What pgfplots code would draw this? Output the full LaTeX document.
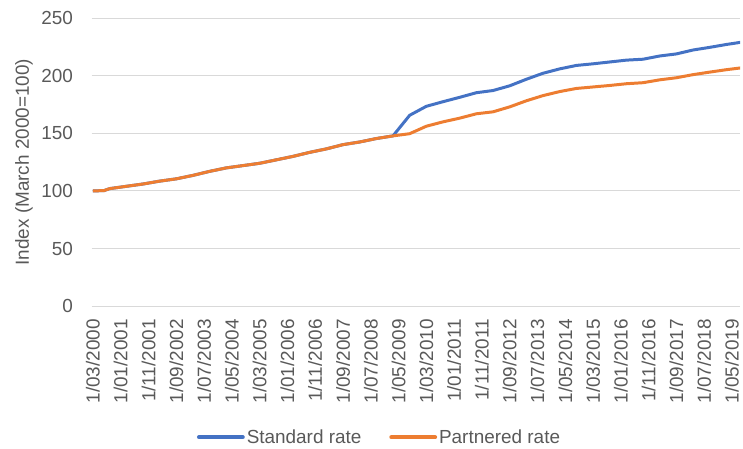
\documentclass[border=0pt]{standalone}
\usepackage{pgfplots}
\pgfplotsset{compat=1.18}
\usepackage{pgfplotstable}
\usepackage{fontspec}
\setmainfont{Liberation Sans}
\definecolor{stdblue}{HTML}{4472C4}
\definecolor{partorange}{HTML}{ED7D31}
\definecolor{gridgrey}{HTML}{D9D9D9}
\definecolor{textgrey}{HTML}{595959}
\newcommand\chartfont{\fontsize{19bp}{22bp}\selectfont}
% m = months since March 2000
\pgfplotstableread{
m std part
0 100 100
4 100.3 100.3
6 102 102
12 104 104
18 106 106
24 108.5 108.5
30 110.5 110.5
36 113.5 113.5
42 117 117
48 120 120
54 122 122
60 124 124
66 127 127
72 130 130
78 133.5 133.5
84 136.5 136.5
90 140.2 140.2
96 142.5 142.5
102 145.5 145.5
108 147.8 147.8
114 165.7 149.7
120 173.5 156.2
126 177.5 160
132 181.3 163.2
138 185.3 167
144 187.2 168.7
150 191.3 173
156 197 178.3
162 202.2 182.8
168 206 186.3
174 209 189
180 210.4 190.3
186 212 191.6
192 213.6 193.1
198 214.4 194
204 217.2 196.5
210 219 198.3
216 222.4 201
222 224.7 203.2
228 227.2 205.3
234 229.4 207.1
}\rates
\begin{document}
\begin{tikzpicture}
\begin{axis}[
  at={(92bp,142.7bp)}, anchor=south west,
  scale only axis, width=651bp, height=289bp,
  xmin=-0.47, xmax=232.9, ymin=0, ymax=250,
  xtick={0,10,...,230},
  xticklabels={1/03/2000,1/01/2001,1/11/2001,1/09/2002,1/07/2003,1/05/2004,1/03/2005,1/01/2006,1/11/2006,1/09/2007,1/07/2008,1/05/2009,1/03/2010,1/01/2011,1/11/2011,1/09/2012,1/07/2013,1/05/2014,1/03/2015,1/01/2016,1/11/2016,1/09/2017,1/07/2018,1/05/2019},
  ytick={0,50,...,250},
  ymajorgrids, grid style={gridgrey, line width=1bp},
  axis line style={draw=none},
  major tick length=0pt,
  tick label style={font=\chartfont, text=textgrey},
  /pgf/number format/assume math mode=true,
  xticklabel style={rotate=90, anchor=east, inner sep=0pt},
  yticklabel style={anchor=east, inner sep=0pt},
  xticklabel shift=13bp, yticklabel shift=18.5bp,
  ylabel={Index (March 2000=100)},
  every axis y label/.style={at={(rel axis cs:-0.1045,0.5)}, rotate=90, anchor=center, font=\chartfont, text=textgrey},
  legend columns=2,
  legend style={at={(0.444,-0.4557)}, anchor=center, draw=none, fill=none, font=\chartfont, text=textgrey, /tikz/every even column/.append style={column sep=26bp}},
  legend image code/.code={\draw[#1, line width=4bp, line cap=round] (0bp,0bp) -- (44bp,0bp);},
]
\addplot[stdblue, line width=3bp, line join=round] table[x=m,y=std]{\rates};
\addlegendentry{Standard rate}
\addplot[partorange, line width=3bp, line join=round] table[x=m,y=part]{\rates};
\addlegendentry{Partnered rate}
\end{axis}
\pgfresetboundingbox
\path[use as bounding box] (0,0) rectangle (746bp,450bp);
\end{tikzpicture}
\end{document}
